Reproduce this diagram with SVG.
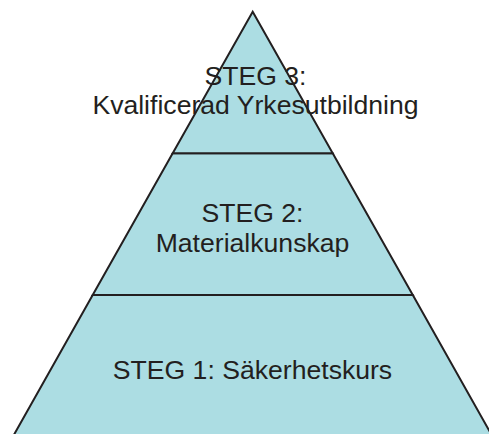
<svg xmlns="http://www.w3.org/2000/svg" width="489" height="434" viewBox="0 0 489 434">
  <style>
    .tier { fill: #acdde3; stroke: #231f20; stroke-width: 2; stroke-linejoin: miter; }
    .label { font-family: "Liberation Sans", Arial, sans-serif; font-size: 26.6px; fill: #231f20; text-anchor: middle; }
  </style>
  <rect x="0" y="0" width="489" height="434" fill="#ffffff"/>
  <g id="steg1">
    <polygon class="tier" points="92.7,295 412.8,295 494.5,440 11,440"/>
    <text class="label" x="252.5" y="378.5">STEG 1: Säkerhetskurs</text>
  </g>
  <g id="steg2">
    <polygon class="tier" points="172.7,153.3 332.7,153.3 412.8,295 92.7,295"/>
    <text class="label" x="252.5" y="221.5">STEG 2:</text>
    <text class="label" x="252.5" y="251.5">Materialkunskap</text>
  </g>
  <g id="steg3">
    <polygon class="tier" points="252.7,11.7 332.7,153.3 172.7,153.3"/>
    <text class="label" x="255.5" y="85">STEG 3:</text>
    <text class="label" x="255.5" y="113.5">Kvalificerad Yrkesutbildning</text>
  </g>
  <g id="connectors"></g>
</svg>
